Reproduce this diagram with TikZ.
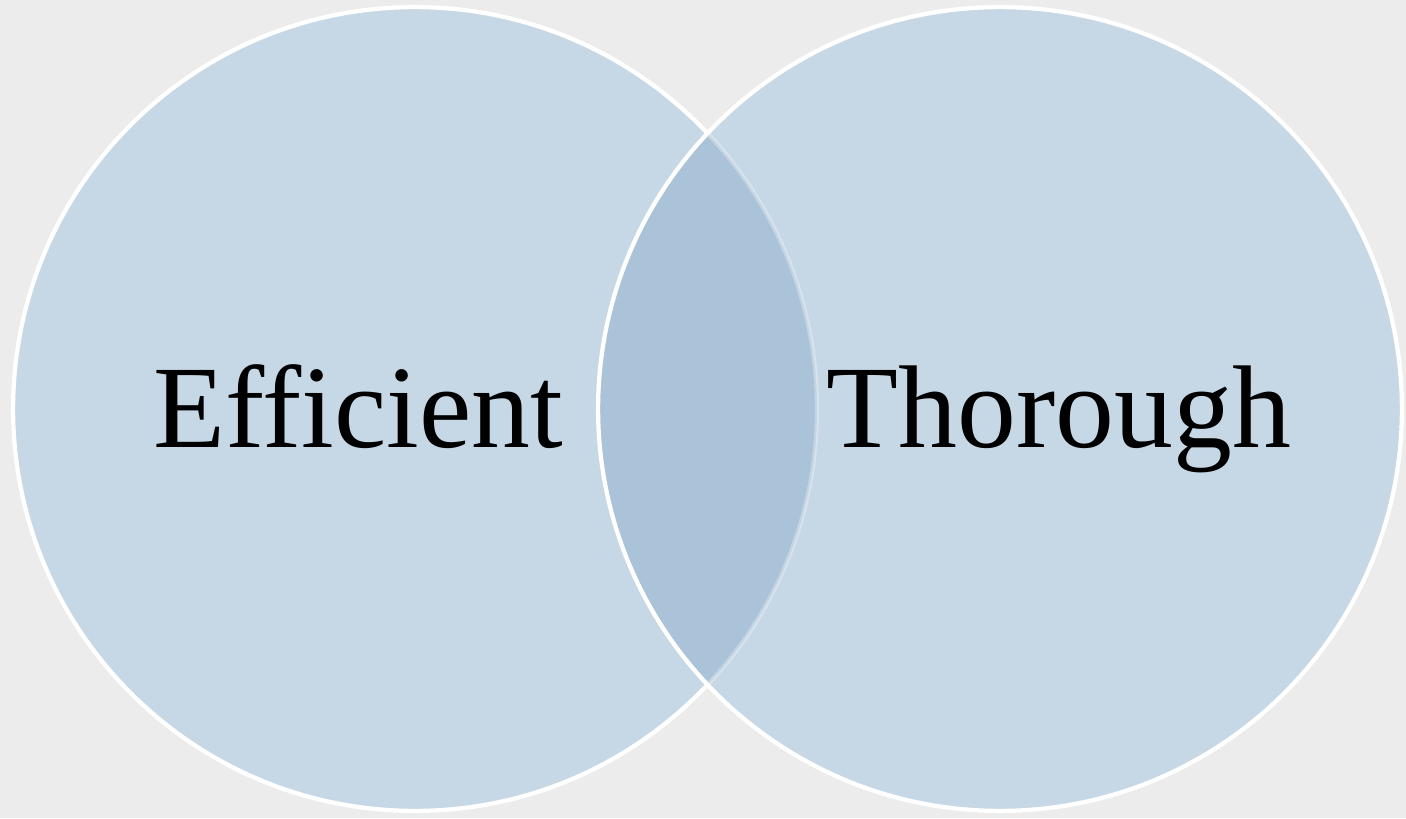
\documentclass[tikz,border=0pt]{standalone}
\usepackage{fontspec}
\setmainfont{Liberation Serif}
\usepackage{tikz}
\definecolor{paper}{RGB}{236,236,236}
\definecolor{vennblue}{RGB}{198,215,229}
\definecolor{venndark}{RGB}{170,195,216}

\begin{document}
\begin{tikzpicture}[
    x=0.02cm, y=-0.02cm,
    venn/.style={
        circle,
        minimum size=16.08cm,
        inner sep=0pt,
        fill=vennblue,
        draw=white,
        line width=0.085cm,
    },
    label/.style={
        anchor=base,
        inner sep=0pt,
        font=\fontsize{67}{70}\selectfont,
    }
]
\fill[paper] (0,0) rectangle (1406,818);
\useasboundingbox (0,0) rectangle (1406,818);

\node[venn] (eff) at (415,409) {};
\node[venn, path picture={
    \fill[venndark] (eff.center) circle [radius=402];
    \draw[white, opacity=0.3, line width=0.085cm] (eff.center) circle [radius=402];
  }] (thr) at (1000,409) {};

\node[label] (efftext) at (358,447) {Efficient};
\node[label] (thrtext) at (1059,447) {Thorough};
\end{tikzpicture}
\end{document}
